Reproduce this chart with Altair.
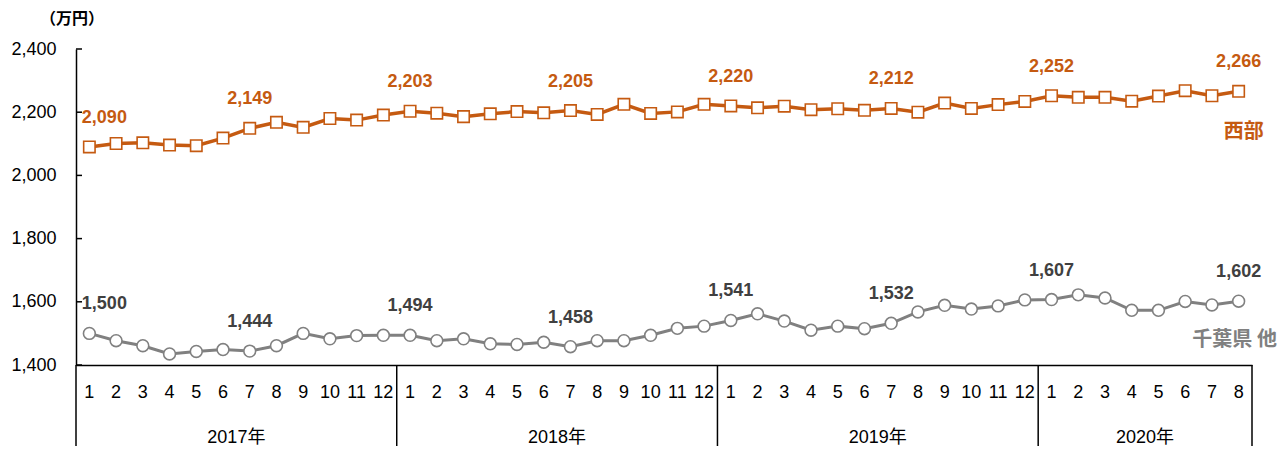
import altair as alt
import pandas as pd

# ---- data ----
years = [2017] * 12 + [2018] * 12 + [2019] * 12 + [2020] * 8
months = [1, 2, 3, 4, 5, 6, 7, 8, 9, 10, 11, 12,
          1, 2, 3, 4, 5, 6, 7, 8, 9, 10, 11, 12,
          1, 2, 3, 4, 5, 6, 7, 8, 9, 10, 11, 12,
          1, 2, 3, 4, 5, 6, 7, 8]
west = [2090, 2101, 2103, 2096, 2094, 2118, 2149, 2168, 2152, 2180, 2175, 2191,
        2203, 2197, 2186, 2195, 2202, 2198, 2205, 2193, 2225, 2196, 2201, 2225,
        2220, 2214, 2219, 2208, 2211, 2206, 2212, 2200, 2229, 2212, 2224, 2234,
        2252, 2247, 2247, 2235, 2251, 2268, 2252, 2266]
chiba = [1500, 1477, 1461, 1435, 1443, 1449, 1444, 1461, 1500, 1483, 1493, 1494,
         1494, 1477, 1483, 1467, 1465, 1472, 1458, 1477, 1477, 1494, 1516, 1523,
         1541, 1562, 1539, 1510, 1523, 1515, 1532, 1568, 1589, 1577, 1587, 1606,
         1607, 1622, 1612, 1573, 1573, 1601, 1590, 1602]
label_idx = [0, 6, 12, 18, 24, 30, 36, 43]
year_bounds = [-0.5, 11.5, 23.5, 35.5, 43.5]
y_ticks = [1400, 1600, 1800, 2000, 2200, 2400]
west_name = "西部"
chiba_name = "千葉県 他"
unit_label = "（万円）"

ORANGE = "#C55A11"
GRAY = "#808080"
DARK = "#404040"
FONT = "Liberation Sans, Noto Sans CJK JP, sans-serif"
CJK = "Noto Sans CJK JP, sans-serif"

n = len(months)
idx = list(range(n))
df_w = pd.DataFrame({"i": idx, "v": west, "m": months, "yl": [f"{y}年" for y in years]})
df_c = pd.DataFrame({"i": idx, "v": chiba, "m": months, "yl": [f"{y}年" for y in years]})
df_b = pd.DataFrame({"b": year_bounds})
df_t = pd.DataFrame({"v": y_ticks})
df_u = pd.DataFrame({"u": [unit_label]})

xs = alt.Scale(domain=[-0.5, n - 0.5], nice=False, zero=False)
ys = alt.Scale(domain=[1400, 2400], nice=False, zero=False)
xaxis = alt.Axis(labels=False, ticks=False, grid=False, title=None,
                 domainColor="black", domainWidth=1.5)
yaxis = alt.Axis(values=y_ticks, labelExpr="format(datum.value, ',')", ticks=False, grid=False,
                 labelPadding=20, labelFontSize=18, labelColor="black", labelFont=FONT,
                 domainColor="black", domainWidth=1.5, title=None)


def X(field="i"):
    return alt.X(f"{field}:Q", scale=xs, axis=xaxis)


def Y(field="v"):
    return alt.Y(f"{field}:Q", scale=ys, axis=yaxis)


H = 316

layers = []
# inward y ticks
layers.append(alt.Chart(df_t).mark_rule(color="black", strokeWidth=1.5).encode(
    y=Y(), x=alt.value(0), x2=alt.value(6)))
# year dividers
layers.append(alt.Chart(df_b).mark_rule(color="black", strokeWidth=1.5).encode(
    x=X("b"), y=alt.value(H), y2=alt.value(H + 81)))
# month labels
layers.append(alt.Chart(df_w).mark_text(fontSize=18, font=FONT, color="black",
                                        baseline="middle").encode(
    x=X(), y=alt.value(H + 28), text="m:N"))
# year labels
layers.append(alt.Chart(df_w).transform_aggregate(c="mean(i)", groupby=["yl"]).mark_text(
    fontSize=18, font=FONT, color="black", baseline="middle").encode(
    x=X("c"), y=alt.value(H + 73), text="yl:N"))
# unit label
layers.append(alt.Chart(df_u).mark_text(fontSize=16, fontWeight="bold", font=CJK,
                                        color="black", baseline="middle").encode(
    x=alt.value(-4), y=alt.value(-30), text="u:N"))

for df, col, shape, txtcol, sw in [(df_w, ORANGE, "square", ORANGE, 3.5),
                                   (df_c, GRAY, "circle", DARK, 3.0)]:
    layers.append(alt.Chart(df).mark_line(color=col, strokeWidth=sw).encode(x=X(), y=Y()))
    layers.append(alt.Chart(df).mark_point(shape=shape, filled=True, fill="white",
                                           stroke=col, strokeWidth=1.6, opacity=1,
                                           size=130 if shape == "square" else 140).encode(
        x=X(), y=Y()))
    layers.append(alt.Chart(df).transform_filter(
        alt.FieldOneOfPredicate(field="i", oneOf=label_idx[1:])).mark_text(
        fontSize=18, fontWeight="bold", font=FONT, color=txtcol, baseline="middle",
        dy=-29).encode(x=X(), y=Y(), text=alt.Text("v:Q", format=",")))
    layers.append(alt.Chart(df).transform_filter(
        alt.FieldEqualPredicate(field="i", equal=label_idx[0])).mark_text(
        fontSize=18, fontWeight="bold", font=FONT, color=txtcol, baseline="middle",
        dy=-29, dx=15).encode(x=X(), y=Y(), text=alt.Text("v:Q", format=",")))

# series names
layers.append(alt.Chart(df_w).transform_filter(
    alt.FieldEqualPredicate(field="i", equal=n - 1)).mark_text(
    fontSize=20, fontWeight="bold", font=CJK, color=ORANGE, baseline="middle",
    dy=41, dx=5).encode(x=X(), y=Y(), text=alt.value(west_name)))
layers.append(alt.Chart(df_c).transform_filter(
    alt.FieldEqualPredicate(field="i", equal=n - 1)).mark_text(
    fontSize=20, fontWeight="bold", font=CJK, color=GRAY, baseline="middle",
    dy=39, dx=-4).encode(x=X(), y=Y(), text=alt.value(chiba_name)))

chart = alt.layer(*layers).properties(
    width=1176, height=H,
    padding={"left": 68, "top": 41, "right": 27, "bottom": 81},
    autosize=alt.AutoSizeParams(type="none"),
).configure_view(stroke=None)

chart.save("out.html", embed_options={"renderer": "svg", "actions": False})
